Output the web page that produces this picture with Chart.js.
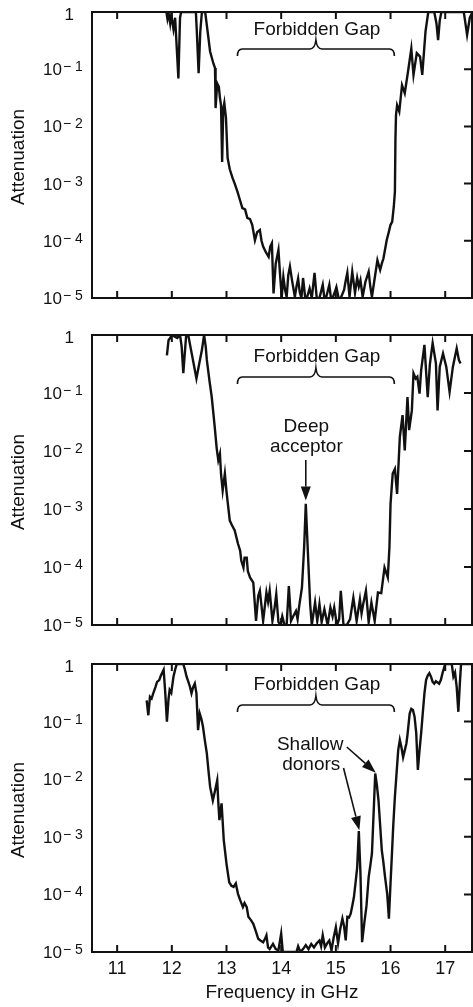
<!DOCTYPE html>
<html>
<head>
<meta charset="utf-8">
<script src="https://cdn.jsdelivr.net/npm/chart.js@4.4.1/dist/chart.umd.min.js"></script>
<style>
  body { margin: 0; background: #fff; }
  #wrap { position: relative; width: 473px; height: 1007px; }
  canvas { position: absolute; left: 0; }
</style>
</head>
<body>
<div id="wrap">
  <canvas id="c1" width="473" height="310" style="top:0px"></canvas>
  <canvas id="c2" width="473" height="320" style="top:320px"></canvas>
  <canvas id="c3" width="473" height="362" style="top:645px"></canvas>
</div>
<script>
// axis ticks
const xTicks = [11, 12, 13, 14, 15, 16, 17];
const yTicks = [1e-5, 1e-4, 1e-3, 1e-2, 1e-1, 1];
const yTickPowers = [-5, -4, -3, -2, -1, 0];

// readings are log10(attenuation), i.e. the decade position read off the plot
// top panel: no defect
const freq1 = [11.90, 11.92, 11.94, 11.97, 11.99, 12.03, 12.06, 12.08, 12.12, 12.15, 12.17, 12.44, 12.46, 12.49, 12.52, 12.55, 12.61, 12.64, 12.70, 12.76,
  12.79, 12.80, 12.83, 12.86, 12.88, 12.90, 12.92, 12.94, 12.96, 12.99, 13.02, 13.06, 13.11, 13.15, 13.20, 13.25, 13.29, 13.34, 13.38, 13.43,
  13.47, 13.52, 13.56, 13.61, 13.64, 13.67, 13.72, 13.77, 13.80, 13.83, 13.86, 13.90, 13.95, 13.98, 14.01, 14.04, 14.07, 14.10, 14.13, 14.16,
  14.20, 14.25, 14.28, 14.31, 14.34, 14.37, 14.40, 14.44, 14.47, 14.52, 14.56, 14.61, 14.65, 14.70, 14.76, 14.79, 14.82, 14.88, 14.91, 14.94,
  14.98, 15.01, 15.05, 15.09, 15.15, 15.18, 15.21, 15.25, 15.30, 15.35, 15.39, 15.42, 15.45, 15.49, 15.54, 15.60, 15.63, 15.66, 15.70, 15.76,
  15.81, 15.84, 15.87, 15.93, 15.97, 16.00, 16.03, 16.06, 16.08, 16.09, 16.10, 16.12, 16.16, 16.21, 16.26, 16.32, 16.38, 16.42, 16.48, 16.54,
  16.58, 16.64, 16.69, 16.80, 16.84, 16.87, 16.90, 16.93, 17.34, 17.37, 17.40, 17.45, 17.50];
const logAtt1 = [0, -0.12, -0.02, -0.2, -0.05, -0.3, -0.1, -0.45, -1.16, -0.1, 0, 0, -0.4, -1.07, -0.35, 0, 0, -0.23, -0.69, -0.9,
  -0.98, -1.68, -1.25, -1.31, -1.5, -1.63, -2.62, -1.7, -1.59, -1.85, -2.55, -2.75, -2.9, -3.0, -3.14, -3.3, -3.43, -3.45, -3.6, -3.62,
  -3.72, -3.99, -3.85, -3.81, -4.0, -4.1, -4.2, -4.28, -4.1, -4.04, -4.92, -4.4, -4.16, -4.6, -4.98, -4.63, -4.85, -4.98, -4.6, -4.45,
  -4.7, -4.98, -4.8, -4.66, -4.9, -5, -4.65, -5, -5, -4.83, -5, -4.56, -5, -5, -4.77, -5, -5, -4.77, -5, -5,
  -4.9, -4.81, -5, -5, -4.86, -4.7, -4.56, -4.98, -4.54, -4.91, -4.65, -4.8, -4.69, -4.98, -4.72, -4.54, -4.8, -4.98, -4.72, -4.34,
  -4.51, -4.4, -4.31, -3.99, -3.84, -3.72, -3.67, -3.4, -3.14, -2.21, -1.8, -1.63, -1.74, -1.28, -1.42, -1.04, -0.64, -1.1, -0.72, -0.78,
  -1.1, -0.34, 0, 0, -0.2, -0.49, -0.15, 0, 0, -0.2, -0.4, -0.1, 0];

// middle panel: deep acceptor
const freq2 = [11.91, 11.94, 11.97, 12.00, 12.10, 12.15, 12.18, 12.21, 12.26, 12.30, 12.34, 12.40, 12.45, 12.50, 12.55, 12.59, 12.62, 12.64, 12.69, 12.73,
  12.76, 12.79, 12.82, 12.85, 12.88, 12.90, 12.93, 12.97, 13.00, 13.06, 13.10, 13.15, 13.21, 13.25, 13.27, 13.31, 13.33, 13.37, 13.39, 13.43,
  13.49, 13.54, 13.58, 13.61, 13.67, 13.73, 13.76, 13.79, 13.84, 13.88, 13.91, 13.95, 13.99, 14.02, 14.06, 14.10, 14.14, 14.18, 14.22, 14.27,
  14.30, 14.33, 14.38, 14.42, 14.45, 14.49, 14.53, 14.56, 14.62, 14.66, 14.70, 14.74, 14.79, 14.85, 14.90, 14.94, 14.97, 15.02, 15.06, 15.09,
  15.14, 15.20, 15.26, 15.32, 15.38, 15.44, 15.47, 15.50, 15.55, 15.60, 15.65, 15.71, 15.77, 15.83, 15.89, 15.95, 15.98, 16.00, 16.04, 16.08,
  16.12, 16.17, 16.22, 16.26, 16.31, 16.34, 16.39, 16.42, 16.46, 16.49, 16.53, 16.56, 16.62, 16.68, 16.72, 16.77, 16.83, 16.86, 16.90, 16.96,
  17.02, 17.08, 17.14, 17.21, 17.25, 17.28];
const logAtt2 = [-0.35, -0.09, -0.05, 0, -0.05, 0, -0.2, -0.66, -0.03, 0, -0.2, -0.5, -0.75, -0.5, -0.26, 0, -0.2, -0.43, -0.8, -1.07,
  -1.35, -1.64, -1.95, -2.16, -2.05, -2.4, -2.68, -2.39, -2.7, -3.2, -3.28, -3.37, -3.6, -3.72, -3.89, -4.01, -3.84, -3.84, -4.07, -4.18,
  -4.27, -4.93, -4.5, -4.41, -4.93, -4.44, -4.6, -4.41, -4.93, -4.7, -4.47, -4.95, -5, -4.85, -5, -5, -4.33, -4.93, -4.85, -4.76,
  -4.9, -4.67, -4.35, -3.66, -2.91, -3.78, -4.64, -5, -4.61, -4.93, -4.64, -4.95, -4.73, -5, -4.7, -4.85, -4.7, -5, -4.9, -4.41,
  -5, -5, -4.9, -4.53, -4.93, -4.56, -4.8, -4.64, -4.41, -4.95, -4.61, -4.93, -4.44, -4.45, -4.01, -4.18, -3.66, -2.91, -2.39, -2.31,
  -2.74, -1.76, -1.38, -1.99, -1.07, -1.64, -1.3, -0.66, -0.75, -0.72, -1.01, -0.61, -0.17, -1.07, -0.5, -0.14, -0.49, -1.3, -0.55, -0.32,
  -0.55, -0.98, -0.55, -0.23, -0.43, -0.49];

// bottom panel: shallow donors
const freq3 = [11.54, 11.57, 11.60, 11.63, 11.66, 11.70, 11.73, 11.77, 11.80, 11.82, 11.85, 11.88, 11.91, 11.94, 11.96, 11.99, 12.03, 12.06, 12.09, 12.21,
  12.24, 12.27, 12.30, 12.33, 12.36, 12.39, 12.42, 12.45, 12.48, 12.51, 12.54, 12.57, 12.60, 12.64, 12.67, 12.70, 12.75, 12.79, 12.83, 12.85,
  12.87, 12.91, 12.95, 13.00, 13.05, 13.09, 13.13, 13.17, 13.21, 13.25, 13.30, 13.33, 13.37, 13.40, 13.45, 13.49, 13.54, 13.58, 13.62, 13.67,
  13.70, 13.73, 13.76, 13.79, 13.85, 13.90, 13.95, 14.00, 14.03, 14.28, 14.31, 14.35, 14.40, 14.45, 14.50, 14.55, 14.60, 14.65, 14.70, 14.73,
  14.76, 14.80, 14.84, 14.88, 14.92, 14.96, 15.00, 15.04, 15.08, 15.12, 15.15, 15.18, 15.21, 15.24, 15.27, 15.30, 15.33, 15.36, 15.39, 15.42,
  15.45, 15.48, 15.52, 15.56, 15.60, 15.63, 15.66, 15.69, 15.72, 15.75, 15.78, 15.81, 15.84, 15.87, 15.90, 15.94, 15.97, 16.00, 16.02, 16.05,
  16.08, 16.11, 16.14, 16.17, 16.20, 16.23, 16.26, 16.29, 16.31, 16.35, 16.38, 16.41, 16.44, 16.47, 16.50, 16.53, 16.56, 16.59, 16.62, 16.65,
  16.68, 16.71, 16.74, 16.77, 16.80, 16.83, 16.86, 16.89, 16.92, 16.95, 17.00, 17.12, 17.15, 17.18, 17.21, 17.24, 17.27, 17.29, 17.50];
const logAtt3 = [-0.63, -0.89, -0.57, -0.6, -0.51, -0.4, -0.31, -0.28, -0.2, -0.16, -0.1, -0.5, -1.0, -0.6, -0.45, -0.5, -0.22, -0.1, 0, 0,
  -0.1, -0.22, -0.3, -0.39, -0.51, -0.4, -0.34, -0.51, -1.15, -0.86, -0.95, -1.09, -1.3, -1.55, -1.85, -2.13, -2.37, -2.2, -2.02, -2.4,
  -2.71, -2.42, -3.06, -3.47, -3.79, -3.85, -3.87, -3.81, -3.99, -4.1, -4.22, -4.15, -4.22, -4.39, -4.45, -4.51, -4.65, -4.77, -4.8, -4.83,
  -4.78, -4.71, -4.92, -4.95, -4.86, -4.95, -4.97, -4.68, -5, -5, -4.9, -5, -4.95, -4.88, -4.95, -4.86, -4.92, -4.85, -4.8, -4.9,
  -4.71, -4.92, -4.85, -4.8, -4.97, -4.75, -4.57, -4.85, -4.6, -4.42, -4.55, -4.8, -4.39, -4.4, -4.34, -4.2, -4.05, -3.8, -3.53, -2.9,
  -3.64, -4.83, -4.5, -4.2, -3.7, -3.5, -3.29, -2.6, -1.9, -2.1, -2.37, -2.8, -3.23, -3.45, -3.7, -4.0, -4.42, -3.8, -3.41, -2.8,
  -2.3, -1.9, -1.5, -1.32, -1.45, -1.62, -1.5, -1.38, -1.23, -0.86, -0.78, -0.8, -0.92, -1.2, -1.84, -1.5, -1.2, -0.85, -0.51, -0.28,
  -0.2, -0.16, -0.22, -0.31, -0.34, -0.3, -0.32, -0.34, -0.28, -0.16, 0, 0, -0.22, -0.15, -0.4, -0.83, -0.3, 0, 0];

const ink = '#111';
const face = '"Liberation Sans", Arial, Helvetica, sans-serif';
const xMin = 10.54, xMax = 17.49;
const gapFrom = 13.2, gapTo = 16.07;

function toPoints(freq, logAtt) {
  return freq.map((f, i) => ({ x: f, y: Math.pow(10, logAtt[i]) }));
}

function arrow(ctx, x0, y0, x1, y1) {
  const ang = Math.atan2(y1 - y0, x1 - x0);
  const len = 14, half = 5;
  const bx = x1 - len * Math.cos(ang), by = y1 - len * Math.sin(ang);
  ctx.beginPath();
  ctx.moveTo(x0, y0);
  ctx.lineTo(bx, by);
  ctx.lineWidth = 1.6;
  ctx.stroke();
  ctx.beginPath();
  ctx.moveTo(x1, y1);
  ctx.lineTo(bx + half * Math.sin(ang), by - half * Math.cos(ang));
  ctx.lineTo(bx - half * Math.sin(ang), by + half * Math.cos(ang));
  ctx.closePath();
  ctx.fill();
}

const framePlugin = {
  id: 'frame',
  afterDraw(chart, args, o) {
    const { ctx, chartArea: a } = chart;
    const x = chart.scales.x, y = chart.scales.y;
    ctx.save();
    ctx.strokeStyle = ink;
    ctx.fillStyle = ink;
    ctx.lineWidth = 2;
    ctx.strokeRect(a.left, a.top, a.right - a.left, a.bottom - a.top);

    // inward ticks on top, bottom and right
    ctx.beginPath();
    xTicks.forEach(v => {
      const px = x.getPixelForValue(v);
      ctx.moveTo(px, a.top); ctx.lineTo(px, a.top + 7);
      ctx.moveTo(px, a.bottom); ctx.lineTo(px, a.bottom - 7);
    });
    yTicks.forEach(v => {
      const py = y.getPixelForValue(v);
      ctx.moveTo(a.right, py); ctx.lineTo(a.right - 8, py);
    });
    ctx.stroke();

    // decade labels with superscripts
    yTicks.forEach((v, i) => {
      const py = y.getPixelForValue(v);
      const p = yTickPowers[i];
      ctx.font = '17px ' + face;
      ctx.textAlign = 'right';
      ctx.textBaseline = 'alphabetic';
      if (p === 0) {
        ctx.fillText('1', 74, py + 8);
      } else {
        ctx.fillText('10', 62, py + 6);
        ctx.font = '14px ' + face;
        ctx.textAlign = 'left';
        ctx.fillText('\u2212', 63, py + 2);
        ctx.fillText(String(-p), 75, py + 2);
      }
    });

    // y title
    ctx.save();
    ctx.translate(19, (a.top + a.bottom) / 2 + 2);
    ctx.rotate(-Math.PI / 2);
    ctx.font = '19px ' + face;
    ctx.textAlign = 'center';
    ctx.textBaseline = 'middle';
    ctx.fillText('Attenuation', 0, 0);
    ctx.restore();

    // forbidden gap brace
    const x1 = x.getPixelForValue(gapFrom), x2 = x.getPixelForValue(gapTo);
    const xm = (x1 + x2) / 2;
    const yh = a.top + o.braceDy;
    ctx.font = '19px ' + face;
    ctx.textAlign = 'center';
    ctx.textBaseline = 'middle';
    ctx.fillText('Forbidden Gap', xm + 1, a.top + o.textDy);
    ctx.beginPath();
    ctx.moveTo(x1, yh + 7);
    ctx.quadraticCurveTo(x1, yh, x1 + 5, yh);
    ctx.lineTo(xm - 6, yh);
    ctx.quadraticCurveTo(xm - 1, yh, xm, yh - 9);
    ctx.quadraticCurveTo(xm + 1, yh, xm + 6, yh);
    ctx.lineTo(x2 - 5, yh);
    ctx.quadraticCurveTo(x2, yh, x2, yh + 7);
    ctx.lineWidth = 1.6;
    ctx.stroke();

    (o.notes || []).forEach(n => {
      ctx.fillText(n.text, x.getPixelForValue(n.x), a.top + n.dy);
    });
    (o.arrows || []).forEach(r => {
      arrow(ctx, x.getPixelForValue(r.fromX), a.top + r.fromDy,
        x.getPixelForValue(r.toX), y.getPixelForValue(r.toY));
    });
    ctx.restore();
  }
};

function makePanel(id, freq, logAtt, frameOpts, padding, showX) {
  return new Chart(document.getElementById(id), {
    type: 'line',
    data: {
      datasets: [{
        data: toPoints(freq, logAtt),
        borderColor: ink,
        borderWidth: 2.4,
        pointRadius: 0,
        tension: 0,
        fill: false
      }]
    },
    options: {
      responsive: false,
      animation: false,
      devicePixelRatio: 1,
      layout: { padding: padding },
      plugins: { legend: { display: false }, tooltip: { enabled: false }, frame: frameOpts },
      scales: {
        x: {
          type: 'linear',
          min: xMin,
          max: xMax,
          display: showX,
          afterBuildTicks: s => { s.ticks = xTicks.map(v => ({ value: v })); },
          afterFit: s => { s.height = showX ? 55 : 0; },
          grid: { display: false },
          border: { display: false },
          ticks: { color: ink, font: { family: face, size: 18 }, padding: -2, maxRotation: 0, autoSkip: false },
          title: { display: true, text: 'Frequency in GHz', color: ink, font: { family: face, size: 19 }, padding: { top: 0, bottom: 3 } }
        },
        y: {
          type: 'logarithmic',
          min: 1e-5,
          max: 1,
          afterBuildTicks: s => { s.ticks = yTicks.map(v => ({ value: v })); },
          afterFit: s => { s.width = 92; },
          grid: { display: false },
          border: { display: false },
          ticks: { display: false }
        }
      }
    },
    plugins: [framePlugin]
  });
}

makePanel('c1', freq1, logAtt1, { textDy: 18, braceDy: 37 }, { top: 12, right: 1, bottom: 12, left: 0 }, false);

makePanel('c2', freq2, logAtt2, {
  textDy: 22, braceDy: 42,
  notes: [{ text: 'Deep', x: 14.46, dy: 92 }, { text: 'acceptor', x: 14.46, dy: 112 }],
  arrows: [{ fromX: 14.45, fromDy: 125, toX: 14.45, toY: 1.4e-3 }]
}, { top: 15, right: 1, bottom: 15, left: 0 }, false);

makePanel('c3', freq3, logAtt3, {
  textDy: 21, braceDy: 41,
  notes: [{ text: 'Shallow', x: 14.53, dy: 81 }, { text: 'donors', x: 14.55, dy: 101 }],
  arrows: [
    { fromX: 15.2, fromDy: 83, toX: 15.73, toY: 1.3e-2 },
    { fromX: 15.14, fromDy: 104, toX: 15.43, toY: 1.3e-3 }
  ]
}, { top: 19, right: 1, bottom: 0, left: 0 }, true);
</script>
</body>
</html>
